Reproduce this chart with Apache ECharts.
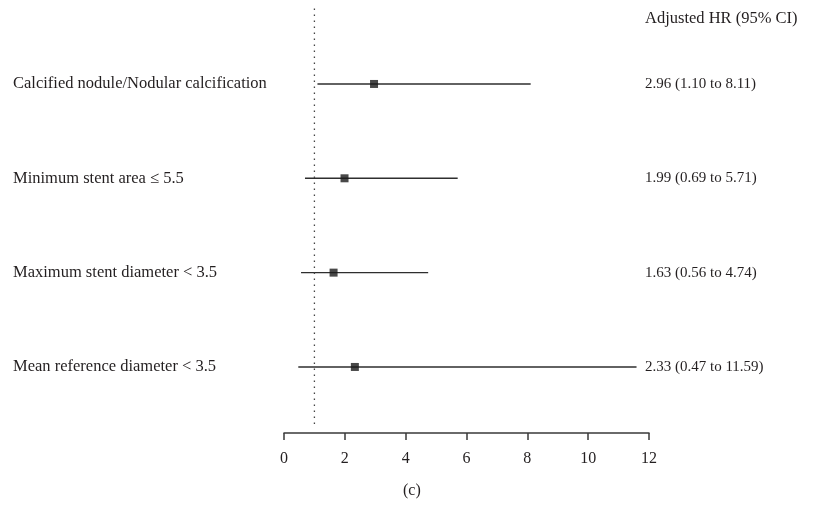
<!DOCTYPE html>
<html>
<head>
<meta charset="utf-8">
<script src="https://cdn.jsdelivr.net/npm/echarts@6/dist/echarts.min.js"></script>
<style>
html, body { margin: 0; padding: 0; background: #fff; }
#chart { width: 817px; height: 511px; }
</style>
</head>
<body>
<div id="chart"></div>
<script>
var labels = ['Calcified nodule/Nodular calcification', 'Minimum stent area \u2264 5.5', 'Maximum stent diameter < 3.5', 'Mean reference diameter < 3.5'];
var hr = [2.96, 1.99, 1.63, 2.33];
var lower = [1.10, 0.69, 0.56, 0.47];
var upper = [8.11, 5.71, 4.74, 11.59];
var ciText = ['2.96 (1.10 to 8.11)', '1.99 (0.69 to 5.71)', '1.63 (0.56 to 4.74)', '2.33 (0.47 to 11.59)'];
var xTicks = [0, 2, 4, 6, 8, 10, 12];

var font = '"Liberation Serif", "DejaVu Serif", serif';
var ink = '#231f20';

var myChart = echarts.init(document.getElementById('chart'));

var ciData = [];
var pointData = [];
for (var i = 0; i < labels.length; i++) {
	ciData.push([lower[i], upper[i], i + 1]);
	pointData.push([hr[i], i + 1]);
}

var option = {
	animation: false,
	title: {
		text: 'Adjusted HR (95% CI)',
		left: 645, top: 10, padding: 0,
		textStyle: { fontFamily: font, fontSize: 16.5, fontWeight: 'normal', color: ink }
	},
	graphic: [{
		type: 'text', left: 403, top: 483,
		style: { text: '(c)', font: '16px ' + font, fill: ink }
	}],
	grid: { left: 284, right: 168, top: 8.5, bottom: 78 },
	xAxis: {
		type: 'value', min: 0, max: 12, interval: 2,
		splitLine: { show: false },
		axisLine: { show: true, lineStyle: { color: '#3a3a3a', width: 1.5 } },
		axisTick: { show: true, length: 7, lineStyle: { color: '#3a3a3a', width: 1.5 } },
		axisLabel: {
			margin: 18, fontFamily: font, fontSize: 16, color: ink,
			formatter: function (v) { return xTicks.indexOf(v) >= 0 ? String(v) : ''; }
		}
	},
	yAxis: {
		type: 'value', min: 0.2, max: 4.7, inverse: true, show: false
	},
	series: [{
		type: 'line',
		data: [[1, 0.2], [1, 4.65]],
		symbol: 'none',
		lineStyle: { type: [1.5, 4.5], color: '#444', width: 1.3 },
		silent: true
	}, {
		type: 'custom',
		data: ciData,
		renderItem: function (params, api) {
			var a = api.coord([api.value(0), api.value(2)]);
			var b = api.coord([api.value(1), api.value(2)]);
			var idx = params.dataIndex;
			return {
				type: 'group',
				children: [{
					type: 'line',
					shape: { x1: a[0], y1: a[1], x2: b[0], y2: b[1] },
					style: { stroke: '#2e2e2e', lineWidth: 1.4 }
				}, {
					type: 'text',
					x: 13, y: a[1],
					style: { text: labels[idx], font: '16.5px ' + font, fill: ink, verticalAlign: 'middle', align: 'left' }
				}, {
					type: 'text',
					x: 645, y: a[1],
					style: { text: ciText[idx], font: '15px ' + font, fill: ink, verticalAlign: 'middle', align: 'left' }
				}]
			};
		}
	}, {
		type: 'scatter',
		data: pointData,
		symbol: 'rect',
		symbolSize: 8,
		itemStyle: { color: '#1a1a1a' },
		z: 5
	}]
};
myChart.setOption(option);
</script>
</body>
</html>
